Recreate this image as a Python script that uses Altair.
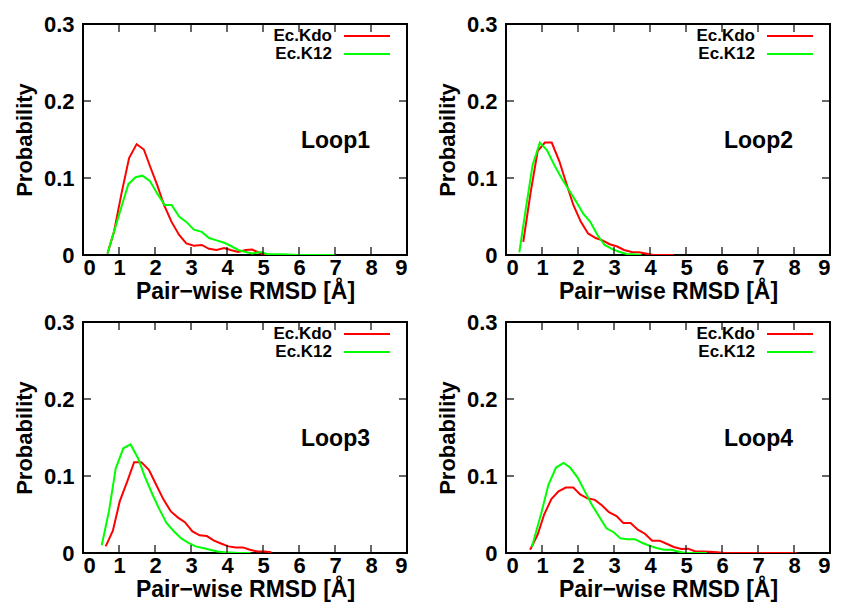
import altair as alt
import pandas as pd

series_names = ["Ec.Kdo", "Ec.K12"]
series_colors = ["#ff0000", "#00ff00"]
panel_names = ["Loop1", "Loop2", "Loop3", "Loop4"]

x_ticks = [0, 1, 2, 3, 4, 5, 6, 7, 8, 9]
y_ticks = [0, 0.1, 0.2, 0.3]
inner_x_ticks = [1, 2, 3, 4, 5, 6, 7, 8]
inner_y_ticks = [0.1, 0.2]

# Loop1
l1_kdo_x = [0.68, 0.86, 1.07, 1.28, 1.49, 1.69, 1.88, 2.06, 2.25, 2.46, 2.67, 2.87, 3.08, 3.3, 3.5, 3.71, 3.92, 4.1, 4.31, 4.52, 4.7, 4.94, 5.1]
l1_kdo_y = [0.002, 0.03, 0.08, 0.126, 0.144, 0.137, 0.113, 0.091, 0.065, 0.043, 0.026, 0.015, 0.012, 0.013, 0.008, 0.0065, 0.009, 0.0065, 0.004, 0.0065, 0.007, 0.002, 0.0]
l1_k12_x = [0.68, 0.86, 1.07, 1.26, 1.46, 1.65, 1.86, 2.06, 2.27, 2.46, 2.67, 2.87, 3.08, 3.3, 3.5, 3.71, 3.92, 4.1, 4.31, 4.52, 4.7, 4.94, 5.1, 5.35, 5.5, 6.0, 7.0]
l1_k12_y = [0.002, 0.03, 0.063, 0.092, 0.101, 0.103, 0.096, 0.080, 0.065, 0.065, 0.050, 0.043, 0.033, 0.030, 0.022, 0.019, 0.016, 0.012, 0.0065, 0.004, 0.002, 0.004, 0.0013, 0.001, 0.001, 0.0, 0.0]

# Loop2
l2_kdo_x = [0.48, 0.68, 0.88, 1.08, 1.27, 1.48, 1.69, 1.87, 2.08, 2.28, 2.49, 2.68, 2.88, 3.09, 3.28, 3.49, 3.69, 3.88, 4.09, 4.3, 4.66]
l2_kdo_y = [0.017, 0.08, 0.135, 0.146, 0.146, 0.122, 0.091, 0.065, 0.043, 0.028, 0.022, 0.019, 0.014, 0.011, 0.0065, 0.004, 0.0035, 0.002, 0.0, 0.0, 0.0]
l2_k12_x = [0.37, 0.55, 0.74, 0.94, 1.14, 1.34, 1.54, 1.74, 1.94, 2.14, 2.34, 2.54, 2.74, 2.94, 3.14, 3.35, 3.55, 3.76]
l2_k12_y = [0.0035, 0.06, 0.117, 0.146, 0.136, 0.117, 0.1, 0.085, 0.07, 0.054, 0.043, 0.026, 0.013, 0.008, 0.0043, 0.0013, 0.001, 0.0]

# Loop3
l3_kdo_x = [0.63, 0.83, 1.02, 1.23, 1.42, 1.62, 1.83, 2.04, 2.23, 2.44, 2.64, 2.83, 3.04, 3.24, 3.44, 3.64, 3.85, 4.04, 4.24, 4.44, 4.64, 4.84, 5.05, 5.23]
l3_kdo_y = [0.0086, 0.029, 0.067, 0.093, 0.118, 0.118, 0.108, 0.088, 0.070, 0.054, 0.046, 0.040, 0.028, 0.023, 0.022, 0.016, 0.012, 0.0086, 0.0073, 0.0073, 0.0043, 0.002, 0.002, 0.001]
l3_k12_x = [0.52, 0.72, 0.91, 1.12, 1.32, 1.53, 1.72, 1.93, 2.13, 2.32, 2.53, 2.73, 2.93, 3.13, 3.33, 3.53, 3.73, 3.94, 4.33, 4.66]
l3_k12_y = [0.01, 0.054, 0.11, 0.136, 0.141, 0.123, 0.099, 0.076, 0.056, 0.039, 0.028, 0.019, 0.013, 0.0086, 0.0065, 0.0043, 0.002, 0.001, 0.0, 0.0]

# Loop4
l4_kdo_x = [0.67, 0.88, 1.06, 1.26, 1.46, 1.66, 1.87, 2.06, 2.26, 2.47, 2.66, 2.86, 3.07, 3.26, 3.46, 3.67, 3.86, 4.06, 4.27, 4.46, 4.66, 4.87, 5.06, 5.26, 5.47, 5.66, 5.86, 6.07, 8.08]
l4_kdo_y = [0.0043, 0.024, 0.05, 0.07, 0.08, 0.085, 0.085, 0.076, 0.071, 0.069, 0.062, 0.053, 0.048, 0.039, 0.039, 0.030, 0.025, 0.016, 0.016, 0.012, 0.0078, 0.0052, 0.0056, 0.002, 0.002, 0.0017, 0.001, 0.0, 0.0]
l4_k12_x = [0.72, 0.97, 1.18, 1.39, 1.6, 1.78, 1.99, 2.19, 2.38, 2.59, 2.79, 2.99, 3.18, 3.37, 3.58, 3.79, 3.99, 4.18, 4.39, 4.59, 4.78, 4.99, 5.58]
l4_k12_y = [0.008, 0.05, 0.089, 0.111, 0.117, 0.111, 0.098, 0.080, 0.063, 0.047, 0.032, 0.027, 0.019, 0.018, 0.018, 0.013, 0.0095, 0.0065, 0.0043, 0.0043, 0.002, 0.0, 0.0]

curves = {
    "Loop1": [(l1_kdo_x, l1_kdo_y), (l1_k12_x, l1_k12_y)],
    "Loop2": [(l2_kdo_x, l2_kdo_y), (l2_k12_x, l2_k12_y)],
    "Loop3": [(l3_kdo_x, l3_kdo_y), (l3_k12_x, l3_k12_y)],
    "Loop4": [(l4_kdo_x, l4_kdo_y), (l4_k12_x, l4_k12_y)],
}

W, H = 324, 231
FONT = "Liberation Sans"
TL = 8  # inward tick length

color_scale = alt.Scale(domain=series_names, range=series_colors)
x_scale = alt.Scale(domain=[0, 9], nice=False, zero=False)
y_scale = alt.Scale(domain=[0, 0.3], nice=False)

x_axis = alt.Axis(values=x_ticks, format="d", title="Pair\u2212wise RMSD [Å]",
                  labelPadding=2, titleY=25, titleFontSize=23)
y_axis = alt.Axis(values=y_ticks, title="Probability",
                  labelExpr="datum.value == 0 ? '0' : format(datum.value, '.1f')",
                  labelPadding=9, titlePadding=7)


def panel(name):
    rows = []
    for s, (xs, ys) in zip(series_names, curves[name]):
        for xv, yv in zip(xs, ys):
            rows.append({"series": s, "x": xv, "y": yv})
    df = pd.DataFrame(rows)

    X = alt.X("x:Q", scale=x_scale, axis=x_axis)
    Y = alt.Y("y:Q", scale=y_scale, axis=y_axis)

    lines = alt.Chart(df).mark_line(strokeWidth=2, clip=True).encode(
        x=X, y=Y,
        color=alt.Color("series:N", scale=color_scale, legend=None),
        detail="series:N",
    )

    xt = pd.DataFrame({"x": inner_x_ticks})
    yt = pd.DataFrame({"y": inner_y_ticks})
    tick_x_bot = alt.Chart(xt).mark_rule(color="black", strokeWidth=1.2).encode(
        x=X, y=alt.value(H), y2=alt.value(H - TL))
    tick_x_top = alt.Chart(xt).mark_rule(color="black", strokeWidth=1.2).encode(
        x=X, y=alt.value(0), y2=alt.value(TL))
    tick_y_left = alt.Chart(yt).mark_rule(color="black", strokeWidth=1.2).encode(
        y=Y, x=alt.value(0), x2=alt.value(TL))
    tick_y_right = alt.Chart(yt).mark_rule(color="black", strokeWidth=1.2).encode(
        y=Y, x=alt.value(W), x2=alt.value(W - TL))

    layers = [lines, tick_x_bot, tick_x_top, tick_y_left, tick_y_right]

    for i, (s, c) in enumerate(zip(series_names, series_colors)):
        ldf = pd.DataFrame({"label": [s]})
        yy = 12 + 18 * i
        layers.append(alt.Chart(ldf).mark_text(
            align="right", baseline="middle", fontSize=17, fontWeight="bold",
            font=FONT, color="black").encode(
            text="label:N", x=alt.value(249), y=alt.value(yy)))
        layers.append(alt.Chart(ldf).mark_rule(color=c, strokeWidth=2).encode(
            x=alt.value(261), x2=alt.value(307), y=alt.value(yy)))

    tdf = pd.DataFrame({"label": [name]})
    layers.append(alt.Chart(tdf).mark_text(
        align="left", baseline="middle", fontSize=23, fontWeight="bold",
        font=FONT, color="black").encode(
        text="label:N", x=alt.value(218), y=alt.value(117)))

    return alt.layer(*layers).properties(width=W, height=H)


top = alt.hconcat(panel("Loop1"), panel("Loop2"), spacing=26)
bottom = alt.hconcat(panel("Loop3"), panel("Loop4"), spacing=26)
chart = alt.vconcat(top, bottom, spacing=6).properties(
    padding={"left": 12, "top": 12, "right": 2, "bottom": 0}
).configure(font=FONT).configure_view(
    stroke="black", strokeWidth=2
).configure_axis(
    grid=False, ticks=False, tickSize=0, domain=False,
    labelFont=FONT, titleFont=FONT,
    labelFontSize=22, labelFontWeight="bold", labelColor="black",
    titleFontSize=22, titleFontWeight="bold", titleColor="black",
)

chart.save("out.html", embed_options={"renderer": "svg", "actions": False})
